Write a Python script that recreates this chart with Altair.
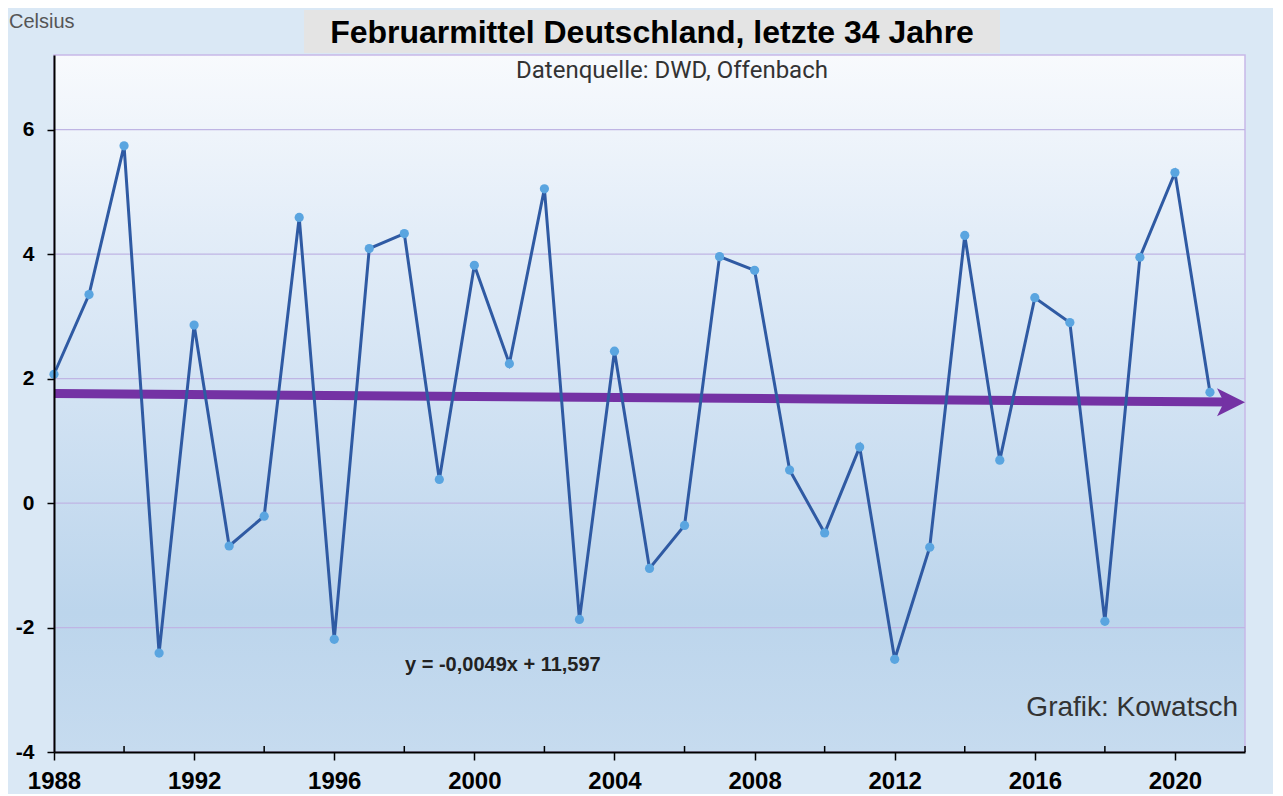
import altair as alt
import pandas as pd

# ---------------- data ----------------
years = list(range(1988, 2022))
temps = [2.07, 3.35, 5.74, -2.41, 2.86, -0.69, -0.21, 4.59, -2.19, 4.09,
         4.33, 0.38, 3.82, 2.24, 5.05, -1.87, 2.44, -1.05, -0.36, 3.96,
         3.74, 0.53, -0.48, 0.90, -2.51, -0.71, 4.30, 0.69, 3.30, 2.90,
         -1.90, 3.95, 5.31, 1.78]

trend_x = [1988, 2021.55]
trend_y = [1.76, 1.625]
arrow_x = [2022]
arrow_y = [1.62]

x_domain = [1988, 2022]
y_domain = [-4, 7.2]
major_years = [1988, 1992, 1996, 2000, 2004, 2008, 2012, 2016, 2020]
minor_years = [1990, 1994, 1998, 2002, 2006, 2010, 2014, 2018, 2022]
y_ticks = [-4, -2, 0, 2, 4, 6]
grid_values = [-2, 0, 2, 4, 6]

title_text = "Februarmittel Deutschland, letzte 34 Jahre"
subtitle_text = "Datenquelle: DWD, Offenbach"
unit_text = "Celsius"
equation_text = "y = -0,0049x + 11,597"
credit_text = "Grafik: Kowatsch"

# ---------------- layout ----------------
W, H = 1191, 697
FONT = "Liberation Sans"
ARROW_PATH = "M0,0 L-1,-0.5 L-0.75,0 L-1,0.5 Z"


def one_row(**kw):
    return pd.DataFrame({k: [v] for k, v in kw.items()})


xs = alt.Scale(domain=x_domain, nice=False, zero=False)
ys = alt.Scale(domain=y_domain, nice=False, zero=False)

x_axis = alt.Axis(values=major_years, format="d", title=None, grid=False,
                  domainColor="black", domainWidth=2, tickColor="black",
                  tickWidth=1.5, tickSize=8, labelFontSize=24,
                  labelFontWeight="bold", labelFont=FONT, labelColor="black",
                  labelPadding=9, labelFlush=False, labelOverlap=False,
                  zindex=1)
y_axis = alt.Axis(values=y_ticks, title=None, grid=False,
                  labelExpr="toString(datum.value)",
                  domainColor="black", domainWidth=2, tickColor="black",
                  tickWidth=1.5, tickSize=7, labelFontSize=21,
                  labelFontWeight="bold", labelFont=FONT, labelColor="black",
                  labelPadding=13, labelFlush=False, labelOverlap=False,
                  zindex=1)


def X(field):
    return alt.X(field, scale=xs, axis=x_axis, title=None)


def Y(field):
    return alt.Y(field, scale=ys, axis=y_axis, title=None)


gradient = alt.LinearGradient(
    gradient="linear",
    stops=[alt.GradientStop(color="#F8FAFD", offset=0),
           alt.GradientStop(color="#E3EDF8", offset=0.25),
           alt.GradientStop(color="#D1E2F3", offset=0.5),
           alt.GradientStop(color="#BCD5EC", offset=0.8),
           alt.GradientStop(color="#C6DBEF", offset=1)],
    x1=0, x2=0, y1=0, y2=1)

plot_bg = alt.Chart(one_row(x=x_domain[0], x2=x_domain[1],
                            y=y_domain[0], y2=y_domain[1])).mark_rect(
    fill=gradient, stroke="#C8B8E8", strokeWidth=1.5
).encode(x=X("x:Q"), x2="x2:Q", y=Y("y:Q"), y2="y2:Q")

grid = alt.Chart(pd.DataFrame({"y": grid_values})).mark_rule(
    color="#BFB5E4", strokeWidth=1.2
).encode(y=Y("y:Q"))

minor = alt.Chart(pd.DataFrame({"x": minor_years,
                                "y": [y_domain[0]] * len(minor_years)})).mark_tick(
    orient="vertical", size=6, thickness=1.5, color="black", yOffset=-3, opacity=1
).encode(x=X("x:Q"), y=Y("y:Q"))

data = pd.DataFrame({"x": years, "y": temps})
line = alt.Chart(data).mark_line(color="#2F5AA3", strokeWidth=3).encode(
    x=X("x:Q"), y=Y("y:Q"))
points = alt.Chart(data).mark_circle(color="#5AA5E0", size=85, opacity=1).encode(
    x=X("x:Q"), y=Y("y:Q"))

trend = alt.Chart(pd.DataFrame({"x": trend_x, "y": trend_y})).mark_line(
    color="#7432A4", strokeWidth=9, strokeCap="butt"
).encode(x=X("x:Q"), y=Y("y:Q"))
arrow = alt.Chart(pd.DataFrame({"x": arrow_x, "y": arrow_y})).mark_point(
    shape=ARROW_PATH, size=3136, filled=True, color="#7432A4", opacity=1,
    strokeWidth=0
).encode(x=X("x:Q"), y=Y("y:Q"))

title_box = alt.Chart(one_row(t="")).mark_rect(fill="#E4E4E4").encode(
    x=alt.value(250), x2=alt.value(946), y=alt.value(-45), y2=alt.value(-2))

title = alt.Chart(one_row(t=title_text)).mark_text(
    font=FONT, fontSize=32, fontWeight="bold", color="black",
    align="center", baseline="alphabetic"
).encode(x=alt.value(598), y=alt.value(-12), text="t:N")

subtitle = alt.Chart(one_row(t=subtitle_text)).mark_text(
    font="Roboto", fontSize=24, color="#333333",
    align="center", baseline="alphabetic"
).encode(x=alt.value(618), y=alt.value(23), text="t:N")

unit = alt.Chart(one_row(t=unit_text)).mark_text(
    font=FONT, fontSize=20, color="#555555",
    align="left", baseline="alphabetic"
).encode(x=alt.value(-45), y=alt.value(-27), text="t:N")

equation = alt.Chart(one_row(t=equation_text)).mark_text(
    font=FONT, fontSize=20, fontWeight="bold", color="#222222",
    align="left", baseline="alphabetic"
).encode(x=alt.value(351), y=alt.value(616), text="t:N")

credit = alt.Chart(one_row(t=credit_text)).mark_text(
    font=FONT, fontSize=28, color="#333333",
    align="right", baseline="alphabetic"
).encode(x=alt.value(1184), y=alt.value(661), text="t:N")

chart = alt.layer(
    plot_bg, grid, minor, trend, arrow, line, points,
    title_box, title, subtitle, unit, equation, credit
).properties(
    width=W, height=H,
    padding={"left": 46, "top": 47, "right": 28, "bottom": 42},
    autosize=alt.AutoSizeParams(type="none"),
    background="#DAE8F5"
).configure_view(stroke=None)

chart.save("out.html", embed_options={"renderer": "svg", "actions": False})
